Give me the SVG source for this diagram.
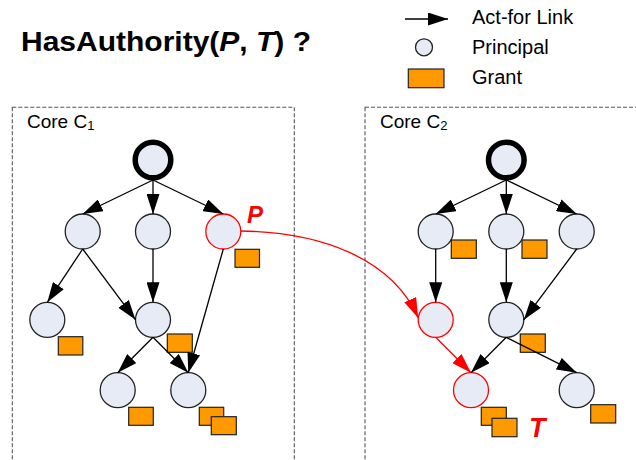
<svg xmlns="http://www.w3.org/2000/svg" width="636" height="460" viewBox="0 0 636 460">
<defs>
<marker id="ah" markerUnits="userSpaceOnUse" markerWidth="20" markerHeight="13" refX="20" refY="6.5" orient="auto" viewBox="0 0 20 13"><path d="M0,0 L20,6.5 L0,13 z" fill="#000"/></marker>
<marker id="ahr" markerUnits="userSpaceOnUse" markerWidth="20" markerHeight="13" refX="20" refY="6.5" orient="auto" viewBox="0 0 20 13"><path d="M0,0 L20,6.5 L0,13 z" fill="#ff0000"/></marker>
<style>
.t{font-family:"Liberation Sans",Arial,sans-serif;fill:#000}
.n{fill:#e6ebf5;stroke:#222;stroke-width:1.3}
.root{fill:#e6ebf5;stroke:#000;stroke-width:5.5}
.red{stroke:#ff0000}
.g{fill:#ff9900;stroke:#222;stroke-width:1.2}
.box{fill:none;stroke:#555;stroke-width:1.1;stroke-dasharray:4,2}
.e{fill:none;stroke:#000;stroke-width:1.3;marker-end:url(#ah)}
.er{fill:none;stroke:#ff0000;stroke-width:1.3;marker-end:url(#ahr)}
.lbl{font-family:"Liberation Sans",Arial,sans-serif;font-weight:bold;font-style:italic;fill:#ff0000}
</style>
</defs>
<rect width="636" height="460" fill="#fff"/>

<g id="title">
<text class="t" x="21" y="51" font-size="28" font-weight="bold" textLength="290" lengthAdjust="spacingAndGlyphs">HasAuthority(<tspan font-style="italic">P</tspan>, <tspan font-style="italic">T</tspan>) ?</text>
</g>

<g id="legend">
<line x1="405" y1="19" x2="448" y2="19" class="e"/>
<text class="t" x="472" y="24" font-size="20">Act-for Link</text>
<circle cx="424" cy="47.3" r="8.5" class="n"/>
<text class="t" x="472" y="54" font-size="20">Principal</text>
<rect x="408.3" y="69" width="35.7" height="18.7" class="g"/>
<text class="t" x="472" y="84" font-size="20">Grant</text>
</g>

<g id="core1">
<rect x="12.3" y="107.3" width="282" height="380" class="box"/>
<text class="t" x="27" y="128" font-size="19">Core C<tspan font-size="13" dy="2">1</tspan></text>
</g>
<g id="core2">
<rect x="365" y="107.3" width="300" height="380" class="box"/>
<text class="t" x="380" y="128" font-size="19">Core C<tspan font-size="13" dy="2">2</tspan></text>
</g>

<!-- left tree nodes -->
<g id="L0"><circle cx="153" cy="160" r="17.8" class="root"/></g>
<g id="L1a"><circle cx="82.7" cy="231.5" r="17.5" class="n"/></g>
<g id="L1b"><circle cx="153" cy="231.5" r="17.5" class="n"/></g>
<g id="L1c"><circle cx="223.3" cy="231.5" r="17.5" class="n red"/><rect x="235" y="249.3" width="24.5" height="18" class="g"/><text class="lbl" x="247" y="223" font-size="24">P</text></g>
<g id="L2a"><circle cx="47.3" cy="319.8" r="17.5" class="n"/><rect x="58.3" y="336.7" width="24.5" height="18.3" class="g"/></g>
<g id="L2b"><circle cx="153" cy="319.8" r="17.5" class="n"/><rect x="167.3" y="334" width="25" height="18.3" class="g"/></g>
<g id="L3a"><circle cx="117.7" cy="390.2" r="17.5" class="n"/><rect x="128.7" y="407.3" width="24.6" height="18" class="g"/></g>
<g id="L3b"><circle cx="188.3" cy="390.2" r="17.5" class="n"/><rect x="199.3" y="407.3" width="24.4" height="18" class="g"/><rect x="211.3" y="416.7" width="25" height="18" class="g"/></g>

<!-- right tree nodes -->
<g id="R0"><circle cx="506.3" cy="160" r="17.8" class="root"/></g>
<g id="R1a"><circle cx="435.7" cy="231.5" r="17.5" class="n"/><rect x="451.3" y="240" width="25" height="18.3" class="g"/></g>
<g id="R1b"><circle cx="506.3" cy="231.5" r="17.5" class="n"/><rect x="522" y="240" width="25" height="18.3" class="g"/></g>
<g id="R1c"><circle cx="576.7" cy="231.5" r="17.5" class="n"/></g>
<g id="R2a"><circle cx="435.7" cy="319.8" r="17.5" class="n red"/></g>
<g id="R2b"><circle cx="506.3" cy="319.8" r="17.5" class="n"/><rect x="520.3" y="334" width="25" height="18.3" class="g"/></g>
<g id="R3a"><circle cx="471" cy="390.2" r="17.5" class="n red"/><rect x="481.3" y="407.3" width="25" height="18" class="g"/><rect x="492" y="418.3" width="25" height="18.4" class="g red"/><text class="lbl" x="529" y="437" font-size="27">T</text></g>
<g id="R3b"><circle cx="576.7" cy="390.2" r="17.5" class="n"/><rect x="590.7" y="404.7" width="25" height="18.3" class="g"/></g>

<g id="connectors">
<line x1="153" y1="180" x2="82.7" y2="214" class="e"/>
<line x1="153" y1="180" x2="153" y2="214" class="e"/>
<line x1="153" y1="180" x2="223.3" y2="214" class="e"/>
<line x1="82.7" y1="249" x2="47.3" y2="302.3" class="e"/>
<line x1="82.7" y1="249" x2="135.5" y2="319.8" class="e"/>
<line x1="153" y1="249" x2="153" y2="302.3" class="e"/>
<line x1="223.3" y1="249" x2="188.3" y2="372.7" class="e"/>
<line x1="153" y1="337.3" x2="117.7" y2="372.7" class="e"/>
<line x1="153" y1="337.3" x2="188.3" y2="372.7" class="e"/>

<line x1="506.3" y1="180" x2="435.7" y2="214" class="e"/>
<line x1="506.3" y1="180" x2="506.3" y2="214" class="e"/>
<line x1="506.3" y1="180" x2="576.7" y2="214" class="e"/>
<line x1="435.7" y1="249" x2="435.7" y2="302.3" class="e"/>
<line x1="506.3" y1="249" x2="506.3" y2="302.3" class="e"/>
<line x1="576.7" y1="249" x2="523.8" y2="319.8" class="e"/>
<line x1="435.7" y1="337.3" x2="471" y2="372.7" class="er"/>
<line x1="506.3" y1="337.3" x2="471" y2="372.7" class="e"/>
<line x1="506.3" y1="337.3" x2="576.7" y2="372.7" class="e"/>
<path d="M240.8,231 C320,232 392,258 418.2,318" class="er"/>
</g>
</svg>
